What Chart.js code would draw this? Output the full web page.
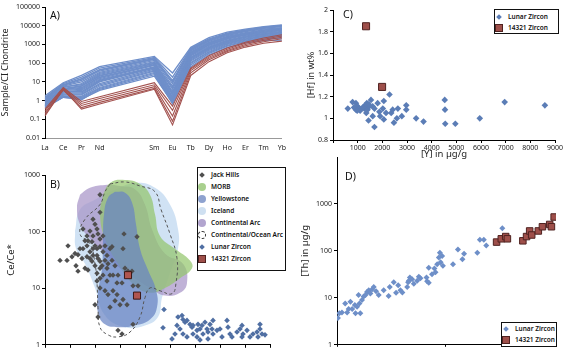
<!DOCTYPE html>
<html>
<head>
<meta charset="utf-8">
<script src="https://cdn.jsdelivr.net/npm/chart.js@4"></script>
<style>
  body { margin: 0; width: 576px; height: 351px; overflow: hidden; background: #fff; position: relative; font-family: 'Noto Sans', sans-serif; }
  .panel { position: absolute; }
  .lg { position: absolute; border: 1px solid #111; background: #fff; color: #111; font-size: 6.5px; font-weight: 600; box-sizing: border-box; }
  .row { position: relative; height: 12px; line-height: 12px; padding-left: 13px; white-space: nowrap; }
  .mk { position: absolute; top: 50%; left: 4px; transform: translate(-50%, -50%); }
  .dia { width: 4px; height: 4px; transform: translate(-50%, -50%) rotate(45deg); }
  .dot { width: 8px; height: 8px; border-radius: 50%; }
  .sq { width: 6px; height: 6px; background: #9e4f4a; border: 1px solid #4f2220; }
</style>
</head>
<body>
<div class="panel" style="left:0;top:0;width:292px;height:156px"><canvas id="chartA"></canvas></div>
<div class="panel" style="left:290px;top:0;width:286px;height:160px"><canvas id="chartC"></canvas></div>
<div class="panel" style="left:0;top:160px;width:292px;height:191px"><canvas id="chartB"></canvas></div>
<div class="panel" style="left:290px;top:150px;width:286px;height:201px"><canvas id="chartD"></canvas></div>

<div class="lg" style="left:197px;top:167px;width:89px;height:104px;padding-top:1px">
  <div class="row"><span class="mk dia" style="background:#4f4f4f"></span>Jack Hills</div>
  <div class="row"><span class="mk dot" style="background:#a9d08e"></span>MORB</div>
  <div class="row"><span class="mk dot" style="background:#8ea2cf"></span>Yellowstone</div>
  <div class="row"><span class="mk dot" style="background:#cfe0f1"></span>Iceland</div>
  <div class="row"><span class="mk dot" style="background:#b2a5cf"></span>Continental Arc</div>
  <div class="row"><span class="mk dot" style="width:6px;height:6px;border:1px dashed #333"></span>Continental/Ocean Arc</div>
  <div class="row"><span class="mk dia" style="background:#506fa3"></span>Lunar Zircon</div>
  <div class="row"><span class="mk sq"></span>14321 Zircon</div>
</div>
<div class="lg" style="left:494px;top:9px;width:65px;height:25px;padding-top:1px">
  <div class="row" style="height:11px;line-height:11px"><span class="mk dia" style="background:#5b7db6"></span>Lunar Zircon</div>
  <div class="row" style="height:11px;line-height:11px"><span class="mk sq"></span>14321 Zircon</div>
</div>
<div class="lg" style="left:501px;top:322px;width:56px;height:25px;border-width:1.5px">
  <div class="row" style="height:11px;line-height:11px"><span class="mk dia" style="background:#6e8fc8"></span>Lunar Zircon</div>
  <div class="row" style="height:11px;line-height:11px"><span class="mk sq"></span>14321 Zircon</div>
</div>

<script>
// ---- A) REE patterns (La Ce Pr Nd Sm Eu Tb Dy Ho Er Tm Yb)
const reeLabels = ['La', 'Ce', 'Pr', 'Nd', '', '', 'Sm', 'Eu', 'Tb', 'Dy', 'Ho', 'Er', 'Tm', 'Yb'];
const blueLines = [
  [1.8, 9, 22, 65, 230, 30, 700, 2300, 4500, 6500, 9000, 11000],
  [1.5, 8, 18, 55, 200, 18, 620, 2000, 4000, 6000, 8500, 10500],
  [1.4, 7, 14, 42, 170, 10, 540, 1750, 3500, 5400, 7500, 9500],
  [1.3, 7, 15, 45, 180, 12, 560, 1800, 3700, 5600, 8000, 10000],
  [1.2, 6.5, 12, 38, 160, 8, 500, 1600, 3300, 5200, 7200, 9000],
  [1.0, 6, 10, 32, 140, 6, 450, 1450, 3000, 4800, 6500, 8000],
  [0.9, 5, 8, 28, 120, 4, 400, 1300, 2700, 4300, 6000, 7500],
  [1.1, 5.5, 7, 25, 110, 3, 380, 1200, 2600, 4000, 5600, 7000],
  [1.0, 4, 6, 20, 100, 5, 350, 1150, 2400, 3800, 5200, 6800],
  [0.8, 4.5, 6, 22, 95, 2.5, 330, 1100, 2300, 3700, 5000, 6400],
  [0.7, 4, 5, 18, 85, 2, 300, 1000, 2100, 3400, 4600, 6000],
  [0.8, 3.8, 4.5, 17, 80, 2.2, 280, 950, 2000, 3200, 4400, 5800],
  [0.9, 3.5, 4, 15, 75, 1.6, 270, 900, 1900, 3100, 4300, 5500],
  [0.6, 3, 3.5, 13, 65, 1.4, 240, 800, 1700, 2800, 3900, 5000],
  [0.7, 3.2, 3, 11, 60, 1.2, 210, 720, 1550, 2600, 3600, 4600],
  [0.55, 2.8, 2.8, 12, 58, 1.3, 200, 700, 1500, 2500, 3500, 4500],
  [0.5, 2.5, 2.5, 10, 55, 1.0, 190, 650, 1400, 2400, 3300, 4200],
  [0.6, 2.2, 2.2, 8, 48, 0.9, 170, 600, 1300, 2200, 3000, 3900],
  [0.45, 2, 2, 7, 42, 0.8, 150, 540, 1200, 2000, 2800, 3600],
  [0.5, 1.8, 1.7, 6, 38, 0.75, 130, 480, 1100, 1850, 2600, 3300],
  [0.4, 1.6, 1.5, 5, 32, 0.7, 110, 420, 1000, 1700, 2400, 3000],
  [0.45, 1.5, 1.3, 4.5, 28, 0.8, 95, 380, 900, 1550, 2200, 2700],
  [0.4, 1.5, 1.1, 4, 24, 0.7, 80, 330, 800, 1400, 1900, 2200],
  [0.5, 1.7, 1.2, 3.5, 20, 0.75, 65, 280, 700, 1200, 1600, 1700]
];
const redLines = [
  [0.35, 5, 0.9, 1.6, 9, 0.5, 55, 250, 650, 1300, 2200, 3300],
  [0.28, 4.5, 0.7, 1.3, 7, 0.3, 48, 210, 560, 1150, 1900, 2800],
  [0.22, 4, 0.55, 1.0, 5.5, 0.15, 40, 180, 480, 1000, 1650, 2400],
  [0.18, 3.6, 0.42, 0.8, 4.5, 0.08, 30, 150, 420, 850, 1400, 2000],
  [0.15, 4.2, 0.35, 0.65, 4, 0.05, 22, 120, 360, 720, 1150, 1500]
];
const aTicks = [0.01, 0.1, 1, 10, 100, 1000, 10000, 100000];
const aTickLabels = ['0.01', '0.1', '1', '10', '100', '1000', '10000', '100000'];

// ---- C) [Hf] wt% vs [Y] µg/g
const lunarY = [600, 795, 930, 1000, 930, 1070, 1270, 1340, 1400, 1370, 1470, 1540, 1610, 1440, 1610, 1680, 1680, 1810, 1880, 1910, 2020, 2060, 2060, 2150, 2290, 2360, 2420, 2470, 2630, 2590, 2790, 2970, 2970, 3370, 3670, 4530, 4540, 4550, 4960, 5950, 6960, 8590, 1300, 1350, 1200, 1450, 1100, 850, 980];
const lunarHf = [1.09, 1.15, 1.14, 1.11, 1.08, 1.09, 1.09, 1.11, 1.08, 1.14, 1.11, 1.17, 1.11, 0.98, 1.02, 0.92, 1.09, 1.14, 1.06, 1.02, 1.09, 1.16, 0.99, 1.05, 1.22, 1.05, 1.08, 0.96, 1.09, 1.00, 1.02, 1.08, 1.12, 1.00, 0.97, 1.17, 1.08, 0.95, 0.95, 1.00, 1.15, 1.12, 1.12, 1.05, 1.10, 1.13, 1.07, 1.10, 1.07];
const z14321Y = [1340, 1990];
const z14321Hf = [1.85, 1.29];
const cXTicks = [0, 1000, 2000, 3000, 4000, 5000, 6000, 7000, 8000, 9000];
const cXLabels = ['', '1000', '2000', '3000', '4000', '5000', '6000', '7000', '8000', '9000'];
const cYTicks = [0.8, 1, 1.2, 1.4, 1.6, 1.8, 2];
const cYLabels = ['0.8', '1', '1.2', '1.4', '1.6', '1.8', '2'];

// ---- B) Ce/Ce* fields and points
const jhX = [1840, 1760, 2640, 2480, 2640, 4400, 4400, 3840, 3040, 4160, 3840, 3760, 3360, 3600, 3840, 4160, 4400, 4640, 4240, 4000, 3760, 4560, 4800, 4960, 5200, 4800, 3360, 3200, 3440, 4160, 4400, 4640, 4960, 4160, 4400, 4800, 5040, 5440, 5600, 4000, 5200, 6000, 6240, 6560, 5760, 4240, 5840, 6160, 7040, 7360, 7440, 7040, 6960, 6640, 7360, 6240, 6320, 5360, 5600, 5840, 3360, 3600, 4400, 4640, 4000, 3040, 2960, 3600, 3840, 4160, 4400, 4400, 4960, 5200, 3440, 3200, 2800, 5040, 5360, 5440, 5760, 6160, 6400, 2400, 2160, 4240, 4000, 1200];
const jhCe = [56, 31, 39, 25, 20, 449, 219, 165, 111, 111, 84, 66, 56, 44, 38, 50, 54, 44, 33.5, 25, 30, 25, 31, 38, 50, 56, 36, 22.5, 21, 18.4, 15, 17, 13.4, 13.4, 10.1, 9.0, 7.7, 9.0, 6.0, 5.1, 4.6, 5.1, 6.3, 5.1, 7.7, 3.1, 1.8, 1.55, 2.3, 7.7, 11, 11, 20, 20, 81, 50, 91, 54, 25, 17, 84, 102, 74, 84, 56, 50, 33.5, 33.5, 50, 38, 30, 22.5, 22.5, 17, 69, 69, 50, 27, 31, 17, 12.4, 12.4, 22.5, 41, 36, 91, 135, 31];
const lbX = [9520, 9440, 10640, 10960, 11040, 11200, 11360, 11600, 11760, 11840, 10800, 10560, 10400, 10160, 11040, 11360, 11840, 12160, 12400, 12560, 12640, 12960, 13040, 13360, 13440, 13040, 12400, 12160, 13760, 14000, 14560, 14640, 14800, 14960, 14160, 15360, 15600, 15760, 15840, 16160, 16400, 16640, 16960, 17200, 17360, 17040, 17600, 15760, 13200, 12800, 12240, 13440, 17200];
const lbCe = [4.2, 2.0, 3.1, 3.3, 2.8, 2.5, 2.7, 2.3, 2.05, 2.2, 1.9, 2.2, 1.55, 1.27, 1.55, 1.38, 1.55, 1.8, 1.9, 2.2, 1.55, 1.9, 1.68, 1.9, 1.55, 1.27, 1.22, 1.38, 1.8, 1.9, 2.7, 2.05, 1.55, 1.38, 1.38, 1.68, 1.9, 2.2, 1.55, 1.8, 1.38, 1.55, 1.68, 1.9, 1.55, 1.38, 1.5, 1.38, 2.3, 2.5, 2.3, 2.7, 2.3];
const rbX = [6640, 7360];
const rbCe = [17, 7.4];
const icelandField = [[2400, 102], [2800, 246], [4000, 367], [5600, 547], [7200, 724], [8800, 593], [10000, 301], [10640, 111], [10640, 50], [10000, 18.4], [9360, 6.8], [9040, 3.1], [8000, 2.2], [6400, 2.05], [4800, 3.3], [4000, 10.1], [3200, 27], [2480, 50]];
const contArcField = [[2800, 449], [3600, 593], [4800, 668], [6000, 640], [7200, 560], [8000, 300], [8560, 110], [9600, 41], [11040, 27], [11360, 12.4], [10800, 8.3], [9600, 7.4], [8400, 10.1], [7200, 15], [6000, 22.5], [4800, 41], [3600, 74], [2800, 135], [2560, 267]];
const morbField = [[4640, 449], [5200, 724], [6400, 816], [7600, 695], [8400, 449], [8800, 202], [9200, 84], [10400, 50], [11600, 31], [11760, 22.5], [10800, 15], [9600, 10.1], [8400, 8.3], [7200, 11], [5840, 27], [4800, 74], [4400, 202]];
const yellowstoneField = [[5600, 505], [6400, 486], [6960, 326], [7280, 135], [7600, 50], [8240, 21], [8880, 9.4], [8960, 4.6], [8400, 2.8], [7200, 2.2], [5840, 2.05], [4800, 2.3], [4240, 3.7], [4240, 8.3], [4560, 22.5], [4640, 74], [4720, 202], [5040, 398]];
const oceanArcField = [[5200, 695], [6400, 753], [7600, 640], [8800, 505], [9280, 246], [10000, 91], [10560, 33.5], [10480, 12.4], [10160, 8.0], [9200, 9.0], [8400, 10.1], [8000, 6.8], [7600, 3.1], [6800, 1.68], [5840, 1.38], [5040, 1.5], [4400, 2.05], [4240, 4.6], [4160, 12.4], [4000, 27], [3600, 61], [2800, 91], [3200, 165], [4400, 301], [4800, 505]];
const bXTicks = [0, 2000, 4000, 6000, 8000, 10000, 12000, 14000, 16000, 18000];
const bYTicks = [1, 10, 100, 1000];
const bYLabels = ['1', '10', '100', '1000'];

// ---- D) [Th] vs [U]
const dU = [1.02, 1.05, 1.11, 1.19, 1.24, 1.28, 1.33, 1.38, 1.46, 1.48, 1.53, 1.58, 1.61, 1.64, 1.70, 1.76, 1.83, 1.89, 1.96, 2.03, 2.10, 2.18, 2.29, 2.42, 2.69, 2.99, 3.06, 3.33, 3.50, 3.66, 3.84, 4.0, 4.43, 4.52, 4.59, 4.69, 4.92, 5.1, 5.48, 5.67, 5.87, 6.67, 6.76, 7.0, 7.0, 7.5, 7.9, 8.08, 8.37, 8.67, 8.86, 9.0, 9.3, 9.45, 11.7, 13.0, 14.3, 14.8, 19.6, 20.7, 22.5, 23.7, 33.3, 35.8];
const dTh = [3.7, 4.7, 4.9, 7.6, 4.9, 5.8, 8.3, 5.8, 7.0, 4.7, 6.5, 11.5, 7.6, 4.7, 9.0, 10.7, 11.5, 13.4, 14.5, 12.4, 15.0, 17.0, 13.9, 11.5, 14.5, 10.9, 17.0, 21.5, 12.8, 18.5, 14.5, 13, 17, 21.5, 23, 27, 25, 20, 23, 28, 26, 27, 22.5, 21, 44, 32, 42, 35, 52, 72, 91, 57, 78, 48, 52, 107, 66, 87, 91, 172, 172, 131, 302, 187];
const dRedU = [29.5, 32.6, 35.8, 37.1, 51.5, 55.7, 59.5, 62.1, 71.5, 78.0, 91.0, 94.4, 100];
const dRedTh = [154, 181, 202, 181, 164, 202, 266, 218, 266, 327, 366, 327, 527];
const dXTicks = [1, 10, 100];
const dYTicks = [1, 10, 100, 1000];
const dYLabels = ['1', '10', '100', '1000'];

Chart.defaults.font.family = "'Noto Sans', sans-serif";
Chart.defaults.font.size = 7;
Chart.defaults.color = '#222';
Chart.defaults.animation = false;
Chart.defaults.events = [];
Chart.defaults.plugins.legend.display = false;
Chart.defaults.plugins.tooltip.enabled = false;
Chart.defaults.maintainAspectRatio = false;

const panelLabel = {
  id: 'panelLabel',
  afterDraw(chart, args, opts) {
    const ctx = chart.ctx, a = chart.chartArea;
    ctx.save();
    ctx.font = "10.5px 'Noto Sans', sans-serif";
    ctx.fillStyle = '#111';
    ctx.textBaseline = 'middle';
    ctx.fillText(opts.text, a.left + opts.dx, a.top + opts.dy);
    ctx.restore();
  }
};

const pts = (xs, ys) => xs.map((x, i) => ({ x: x, y: ys[i] }));
const loop = arr => arr.concat([arr[0]]).map(p => ({ x: p[0], y: p[1] }));
const withGaps = v => v.slice(0, 4).concat([null, null], v.slice(4));
const tickGrid = { drawOnChartArea: false, tickLength: 3, color: '#000' };
const blackBorder = { color: '#000', width: 1 };

// A
new Chart(document.getElementById('chartA'), {
  type: 'line',
  data: {
    labels: reeLabels,
    datasets: redLines.map(v => ({ data: withGaps(v), borderColor: '#a3524f', borderWidth: 1.1 }))
      .concat(blueLines.map(v => ({ data: withGaps(v), borderColor: '#6f8fca', borderWidth: 1.3 })))
      .map(d => Object.assign(d, { pointRadius: 0, spanGaps: true, fill: false, tension: 0 }))
  },
  options: {
    layout: { padding: { top: 7, right: 7 } },
    scales: {
      x: {
        offset: false,
        grid: { display: false, drawTicks: false },
        border: { color: '#999' },
        ticks: { autoSkip: false, maxRotation: 0, padding: 6 },
        afterFit: s => { s.height = 18; }
      },
      y: {
        type: 'logarithmic', min: 0.01, max: 100000,
        afterBuildTicks: s => { s.ticks = aTicks.map(v => ({ value: v })); },
        ticks: { callback: (v, i) => aTickLabels[i], padding: 2 },
        grid: tickGrid, border: blackBorder,
        title: { display: true, text: 'Sample/CI Chondrite', font: { size: 9 }, padding: { top: 0, bottom: 0 } },
        afterFit: s => { s.width = 45; }
      }
    },
    plugins: { panelLabel: { text: 'A)', dx: 5, dy: 9 } }
  },
  plugins: [panelLabel]
});

// C
new Chart(document.getElementById('chartC'), {
  type: 'scatter',
  data: {
    datasets: [
      { data: pts(z14321Y, z14321Hf), pointStyle: 'rect', pointRadius: 5, backgroundColor: '#9e4f4a', borderColor: '#4f2220', borderWidth: 1 },
      { data: pts(lunarY, lunarHf), pointStyle: 'rectRot', pointRadius: 3.3, backgroundColor: '#5b7db6', borderWidth: 0 }
    ]
  },
  options: {
    layout: { padding: { top: 10, right: 21 } },
    scales: {
      x: {
        type: 'linear', min: 0, max: 9000,
        afterBuildTicks: s => { s.ticks = cXTicks.map(v => ({ value: v })); },
        ticks: { callback: (v, i) => cXLabels[i], maxRotation: 0, padding: 1 },
        grid: tickGrid, border: blackBorder,
        title: { display: true, text: '[Y] in µg/g', font: { size: 9.5 }, padding: { top: 0, bottom: 0 } },
        afterFit: s => { s.height = 20; }
      },
      y: {
        type: 'linear', min: 0.8, max: 2,
        afterBuildTicks: s => { s.ticks = cYTicks.map(v => ({ value: v })); },
        ticks: { callback: (v, i) => cYLabels[i], padding: 2 },
        grid: tickGrid, border: blackBorder,
        title: { display: true, text: '[Hf] in wt%', font: { size: 9 }, padding: { top: 16, bottom: 0 } },
        afterFit: s => { s.width = 43; }
      }
    },
    plugins: { panelLabel: { text: 'C)', dx: 10, dy: 5 } }
  },
  plugins: [panelLabel]
});

// B
const field = (arr, color) => ({
  type: 'line', data: loop(arr), backgroundColor: color, borderWidth: 0, borderColor: 'rgba(0,0,0,0)',
  fill: 'shape', tension: 0.45, pointRadius: 0
});
new Chart(document.getElementById('chartB'), {
  type: 'scatter',
  data: {
    datasets: [
      { data: pts(rbX, rbCe), pointStyle: 'rect', pointRadius: 5, backgroundColor: '#b0554f', borderColor: '#3a1715', borderWidth: 1 },
      { data: pts(jhX, jhCe), pointStyle: 'rectRot', pointRadius: 2.7, backgroundColor: '#4f4f4f', borderWidth: 0 },
      { data: pts(lbX, lbCe), pointStyle: 'rectRot', pointRadius: 2.8, backgroundColor: '#506fa3', borderWidth: 0 },
      { type: 'line', data: loop(oceanArcField), borderColor: '#555', borderWidth: 1, borderDash: [3, 2.5], fill: false, tension: 0.45, pointRadius: 0 },
      field(yellowstoneField, 'rgba(104,132,196,0.72)'),
      field(morbField, 'rgba(148,198,110,0.72)'),
      field(contArcField, 'rgba(165,145,198,0.7)'),
      field(icelandField, 'rgba(200,221,242,0.85)')
    ]
  },
  options: {
    layout: { padding: { top: 15, right: 22 } },
    scales: {
      x: {
        type: 'linear', min: 0, max: 18000,
        afterBuildTicks: s => { s.ticks = bXTicks.map(v => ({ value: v })); },
        ticks: { display: false },
        grid: tickGrid, border: blackBorder,
        afterFit: s => { s.height = 3; }
      },
      y: {
        type: 'logarithmic', min: 1, max: 1000,
        afterBuildTicks: s => { s.ticks = bYTicks.map(v => ({ value: v })); },
        ticks: { callback: (v, i) => bYLabels[i], padding: 2 },
        grid: tickGrid, border: blackBorder,
        title: { display: true, text: 'Ce/Ce*', font: { size: 9.5 }, padding: { top: 6, bottom: 0 } },
        afterFit: s => { s.width = 45; }
      }
    },
    plugins: { panelLabel: { text: 'B)', dx: 5, dy: 10 } }
  },
  plugins: [panelLabel]
});

// D
new Chart(document.getElementById('chartD'), {
  type: 'scatter',
  data: {
    datasets: [
      { data: pts(dRedU, dRedTh), pointStyle: 'rect', pointRadius: 4.6, backgroundColor: '#9e4f4a', borderColor: '#4f2220', borderWidth: 1 },
      { data: pts(dU, dTh), pointStyle: 'rectRot', pointRadius: 3, backgroundColor: '#6e8fc8', borderWidth: 0 }
    ]
  },
  options: {
    layout: { padding: { top: 7, right: 20 } },
    scales: {
      x: {
        type: 'logarithmic', min: 1, max: 104,
        afterBuildTicks: s => { s.ticks = dXTicks.map(v => ({ value: v })); },
        ticks: { display: false },
        grid: { drawOnChartArea: false, tickLength: 2, color: '#000' }, border: blackBorder,
        afterFit: s => { s.height = 2; }
      },
      y: {
        type: 'logarithmic', min: 1, max: 10000,
        afterBuildTicks: s => { s.ticks = dYTicks.map(v => ({ value: v })); },
        ticks: { callback: (v, i) => dYLabels[i], padding: 2 },
        grid: tickGrid, border: blackBorder,
        title: { display: true, text: '[Th] in µg/g', font: { size: 9.5 }, padding: { top: 10, bottom: 0 } },
        afterFit: s => { s.width = 47; }
      }
    },
    plugins: { panelLabel: { text: 'D)', dx: 8, dy: 20 } }
  },
  plugins: [panelLabel]
});
</script>
</body>
</html>
